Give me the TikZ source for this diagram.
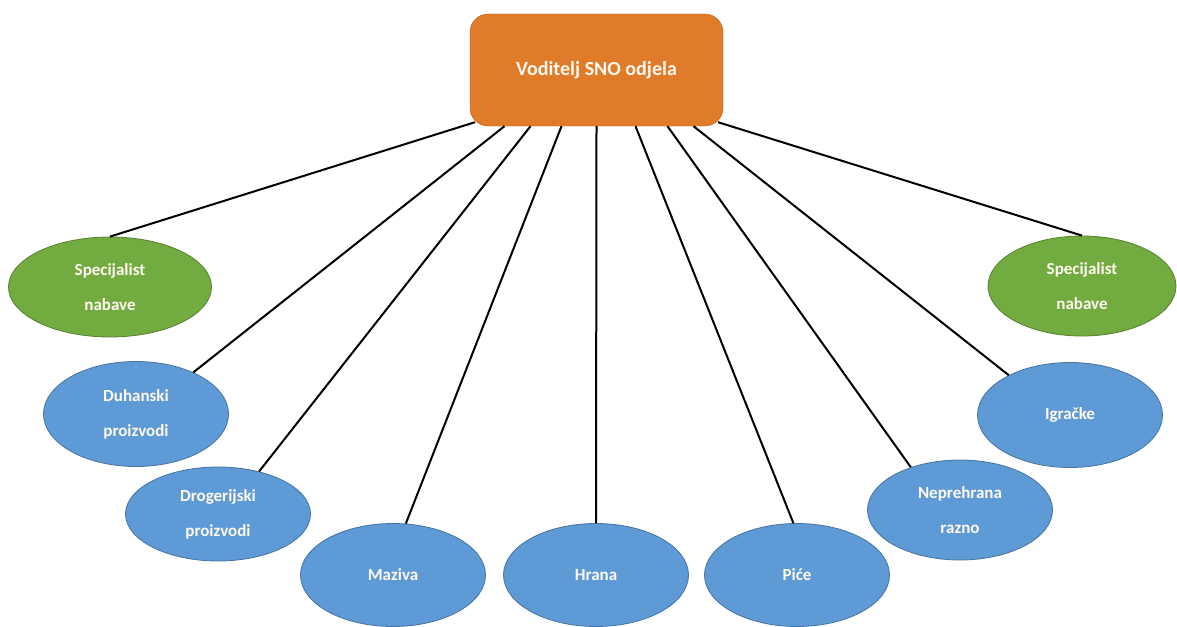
\documentclass[tikz,border=0pt]{standalone}
\usepackage{fontspec}
\setmainfont{Carlito}
\usetikzlibrary{shapes.geometric,calc}
\definecolor{boxorange}{HTML}{E07B2A}
\definecolor{ovalgreen}{HTML}{72AB3F}
\definecolor{ovalblue}{HTML}{5D9AD6}
\definecolor{textwhite}{HTML}{FFF9F0}

\begin{document}
\begin{tikzpicture}[x=1pt,y=1pt,
  headbox/.style={draw=boxorange!80!black, fill=boxorange, rounded corners=18pt,
    minimum width=253pt, minimum height=112pt, text=textwhite,
    font=\fontsize{20}{24}\selectfont\bfseries},
  oval/.style={ellipse, draw=ovalblue!75!black, fill=ovalblue, line width=0.8pt,
    inner sep=0pt, minimum width=185pt, minimum height=103pt, text=textwhite,
    align=center, font=\fontsize{17}{35}\selectfont\bfseries},
  greenoval/.style={oval, draw=ovalgreen!75!black, fill=ovalgreen},
  link/.style={line width=2pt}]
\useasboundingbox (0,0) rectangle (1177,-626);

% head of department
\node[headbox] (boss) at (596.5,-70) {Voditelj SNO odjela};

% specialists and categories
\node[greenoval, minimum width=203pt, minimum height=100pt] (specl) at (110,-287) {Specijalist\\nabave};
\node[oval, minimum height=105pt] (duhan) at (136,-414) {Duhanski\\proizvodi};
\node[oval, minimum height=94pt] (droger) at (218,-514) {Drogerijski\\proizvodi};
\node[oval] (maziva) at (393,-575) {Maziva};
\node[oval] (hrana) at (596,-575) {Hrana};
\node[oval] (pice) at (797,-575) {Piće};
\node[oval, minimum height=100pt] (neprehr) at (960,-510) {Neprehrana\\razno};
\node[oval, minimum height=105pt] (igracke) at (1070,-415) {Igračke};
\node[greenoval, minimum width=188pt, minimum height=100pt] (specr) at (1082,-286) {Specijalist\\nabave};

% connectors
\draw[link] ($(boss.south)+(-121.5,4)$) -- (specl.north);
\draw[link] ($(boss.south)+(-92,0)$) -- (duhan.36);
\draw[link] ($(boss.south)+(-66,0)$) -- (droger.46);
\draw[link] ($(boss.south)+(-35,0)$) -- (maziva.76);
\draw[link] (boss.south) -- (hrana.north);
\draw[link] ($(boss.south)+(39,0)$) -- (pice.94);
\draw[link] ($(boss.south)+(71,0)$) -- (neprehr.139);
\draw[link] ($(boss.south)+(97,0)$) -- (igracke.147);
\draw[link] ($(boss.south)+(121.5,4)$) -- (specr.north);
\end{tikzpicture}
\end{document}
